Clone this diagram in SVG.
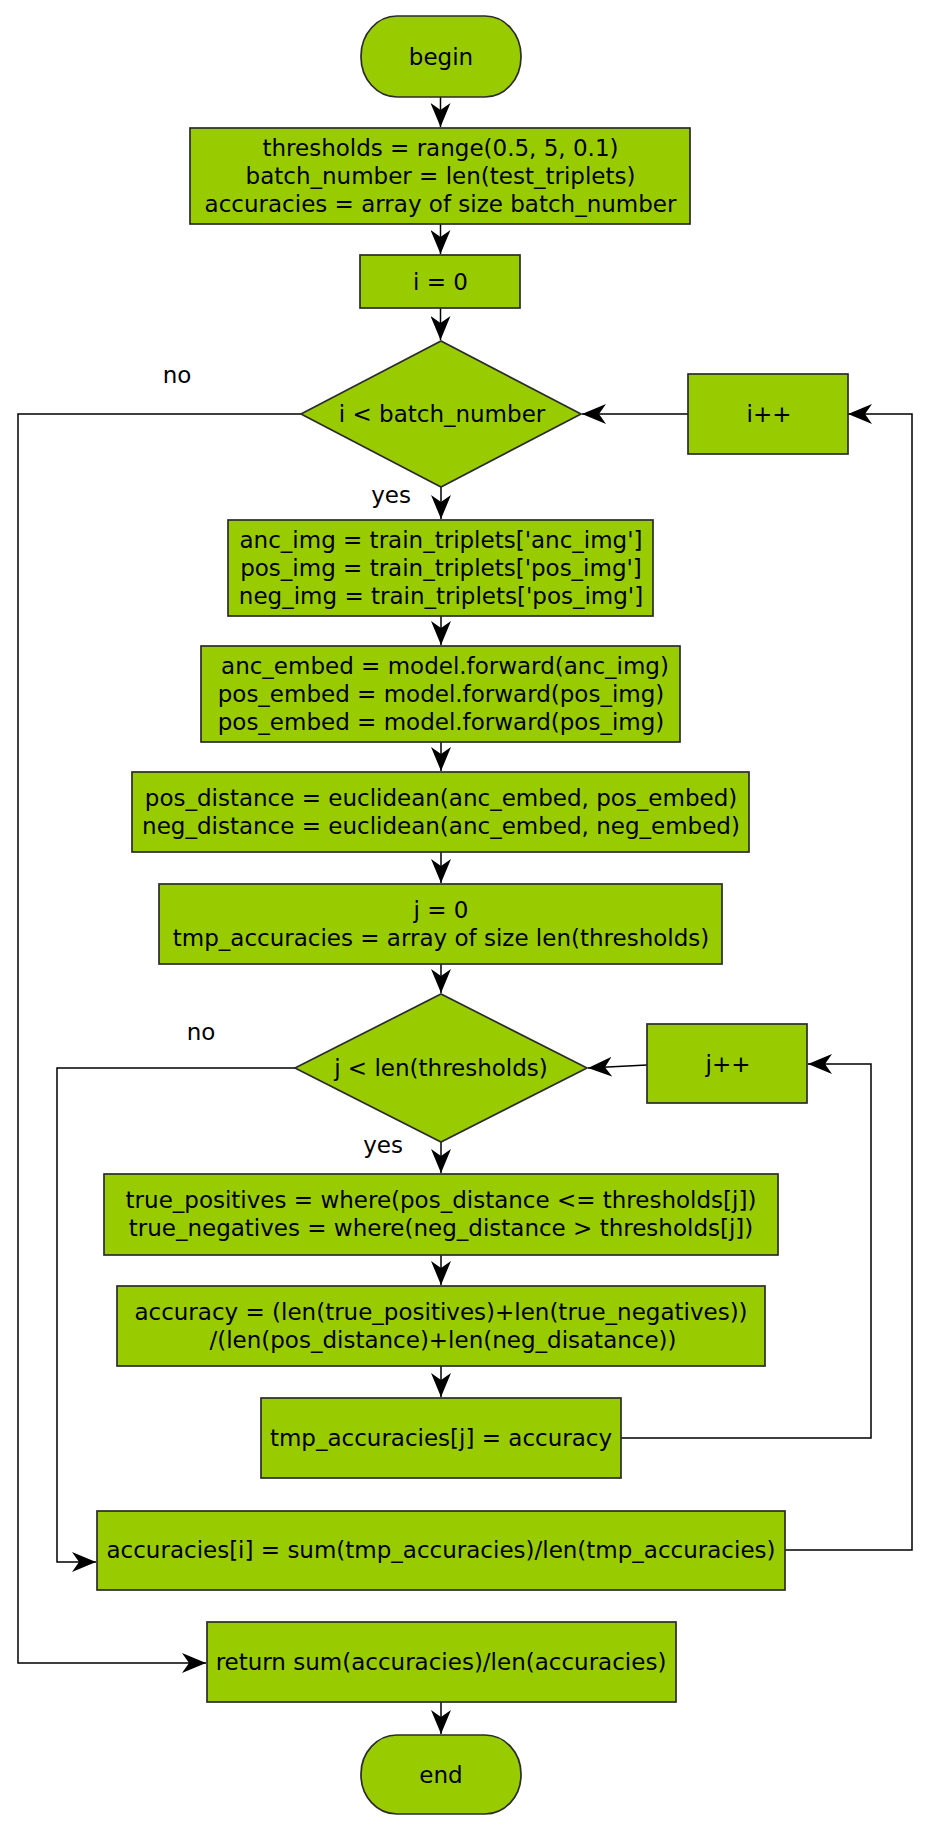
<svg xmlns="http://www.w3.org/2000/svg" width="928" height="1832" viewBox="0 0 928 1832">
<defs>
<style>
.n{fill:#99CC00;stroke:#2b2b2b;stroke-width:1.7}
.t{font-family:"DejaVu Sans","Liberation Sans",sans-serif;font-size:23px;fill:#000;text-anchor:middle}
.c{fill:none;stroke:#000;stroke-width:1.5}
</style>
<marker id="arr" viewBox="-24 -10 25 20" refX="0" refY="0" markerWidth="25" markerHeight="20" orient="auto" markerUnits="userSpaceOnUse">
<path d="M0,0 L-24,-10 L-17,0 L-24,10 Z" fill="#000"/>
</marker>
</defs>
<rect width="928" height="1832" fill="#ffffff"/>
<g id="connectors">
<path class="c" d="M440.5,97 V127" marker-end="url(#arr)"/>
<path class="c" d="M440.5,224 V254" marker-end="url(#arr)"/>
<path class="c" d="M440.5,308 V340" marker-end="url(#arr)"/>
<path class="c" d="M441,487 V519" marker-end="url(#arr)"/>
<path class="c" d="M441,616 V645" marker-end="url(#arr)"/>
<path class="c" d="M441,742 V771" marker-end="url(#arr)"/>
<path class="c" d="M441,852 V883" marker-end="url(#arr)"/>
<path class="c" d="M441,964 V993" marker-end="url(#arr)"/>
<path class="c" d="M441,1142 V1173" marker-end="url(#arr)"/>
<path class="c" d="M441,1255 V1285" marker-end="url(#arr)"/>
<path class="c" d="M441,1366 V1397" marker-end="url(#arr)"/>
<path class="c" d="M441,1702 V1734" marker-end="url(#arr)"/>
<path class="c" d="M688,414 H582" marker-end="url(#arr)"/>
<path class="c" d="M301,414 H18 V1663 H206" marker-end="url(#arr)"/>
<path class="c" d="M785,1550 H912 V414 H848" marker-end="url(#arr)"/>
<path class="c" d="M295,1068 H57 V1562 H96" marker-end="url(#arr)"/>
<path class="c" d="M621,1438 H871 V1064 H808" marker-end="url(#arr)"/>
<path class="c" d="M647,1065 L588,1068" marker-end="url(#arr)"/>
</g>
<g id="begin">
<rect class="n" x="361" y="16" width="160" height="81" rx="36" ry="40"/>
<text class="t" x="441" y="65">begin</text>
</g>
<g id="init">
<rect class="n" x="190" y="128" width="500" height="96"/>
<text class="t" x="440.5" y="156">thresholds = range(0.5, 5, 0.1)</text>
<text class="t" x="440.5" y="184">batch_number = len(test_triplets)</text>
<text class="t" x="440.5" y="212">accuracies = array of size batch_number</text>
</g>
<g id="i0">
<rect class="n" x="360" y="255" width="160" height="53"/>
<text class="t" x="440.5" y="290">i = 0</text>
</g>
<g id="cond_i">
<polygon class="n" points="301,414 441,341 581,414 441,487"/>
<text class="t" x="442" y="422">i &lt; batch_number</text>
</g>
<g id="i_inc">
<rect class="n" x="688" y="374" width="160" height="80"/>
<text class="t" x="769" y="422">i++</text>
</g>
<g id="imgs">
<rect class="n" x="228" y="520" width="425" height="96"/>
<text class="t" x="441" y="548">anc_img = train_triplets['anc_img']</text>
<text class="t" x="441" y="576">pos_img = train_triplets['pos_img']</text>
<text class="t" x="441" y="604">neg_img = train_triplets['pos_img']</text>
</g>
<g id="embeds">
<rect class="n" x="201" y="646" width="479" height="96"/>
<text class="t" x="445" y="674">anc_embed = model.forward(anc_img)</text>
<text class="t" x="441" y="702">pos_embed = model.forward(pos_img)</text>
<text class="t" x="441" y="730">pos_embed = model.forward(pos_img)</text>
</g>
<g id="distances">
<rect class="n" x="132" y="772" width="617" height="80"/>
<text class="t" x="441" y="806">pos_distance = euclidean(anc_embed, pos_embed)</text>
<text class="t" x="441" y="834">neg_distance = euclidean(anc_embed, neg_embed)</text>
</g>
<g id="j0">
<rect class="n" x="159" y="884" width="563" height="80"/>
<text class="t" x="441" y="918">j = 0</text>
<text class="t" x="441" y="946">tmp_accuracies = array of size len(thresholds)</text>
</g>
<g id="cond_j">
<polygon class="n" points="295,1068 441,994 587,1068 441,1142"/>
<text class="t" x="441" y="1076">j &lt; len(thresholds)</text>
</g>
<g id="j_inc">
<rect class="n" x="647" y="1024" width="160" height="79"/>
<text class="t" x="728" y="1072">j++</text>
</g>
<g id="truths">
<rect class="n" x="104" y="1174" width="674" height="81"/>
<text class="t" x="441" y="1208">true_positives = where(pos_distance &lt;= thresholds[j])</text>
<text class="t" x="441" y="1236">true_negatives = where(neg_distance &gt; thresholds[j])</text>
</g>
<g id="accuracy">
<rect class="n" x="117" y="1286" width="648" height="80"/>
<text class="t" x="441" y="1320">accuracy = (len(true_positives)+len(true_negatives))</text>
<text class="t" x="443" y="1348">/(len(pos_distance)+len(neg_disatance))</text>
</g>
<g id="tmp_acc">
<rect class="n" x="261" y="1398" width="360" height="80"/>
<text class="t" x="441" y="1446">tmp_accuracies[j] = accuracy</text>
</g>
<g id="acc_i">
<rect class="n" x="97" y="1511" width="688" height="79"/>
<text class="t" x="441" y="1558">accuracies[i] = sum(tmp_accuracies)/len(tmp_accuracies)</text>
</g>
<g id="return">
<rect class="n" x="207" y="1622" width="469" height="80"/>
<text class="t" x="441" y="1670">return sum(accuracies)/len(accuracies)</text>
</g>
<g id="end">
<rect class="n" x="361" y="1735" width="160" height="79" rx="36" ry="39"/>
<text class="t" x="441" y="1783">end</text>
</g>
<g id="labels">
<text class="t" x="177" y="383">no</text>
<text class="t" x="391" y="503">yes</text>
<text class="t" x="201" y="1040">no</text>
<text class="t" x="383" y="1153">yes</text>
</g>
</svg>
